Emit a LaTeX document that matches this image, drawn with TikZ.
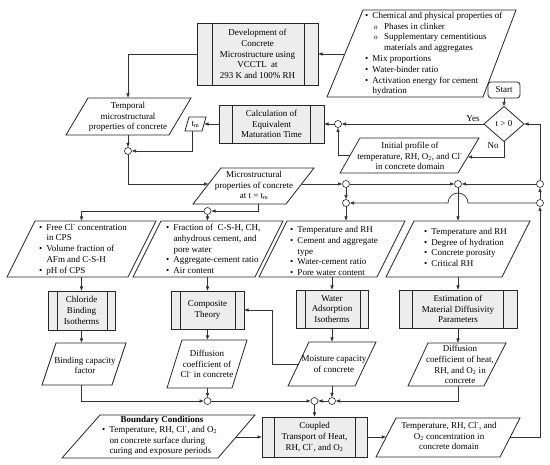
\documentclass[tikz,border=0pt]{standalone}
\usepackage{fontspec}
\setmainfont{Liberation Serif}
\usetikzlibrary{arrows.meta,shapes.geometric}
\newcommand\myb[1]{\makebox[7.5pt][l]{•}#1}
\newcommand\myc[1]{\hspace*{7.5pt}#1}
\newcommand\mysb[1]{\hspace*{9pt}\makebox[10pt][l]{\fontsize{7}{7}\selectfont o}#1}
\newcommand\mysc[1]{\hspace*{19pt}#1}
\newcommand\clm{Cl\textsuperscript{-}}
% name, ytop, ybottom, TLx, TRx, BLx, BRx
\newcommand\pgram[7]{%
  \draw[io] (#6,#3) -- (#7,#3) -- (#5,#2) -- (#4,#2) -- cycle;
  \coordinate (#1-t) at ({(#4+#5)/2},#2);
  \coordinate (#1-b) at ({(#6+#7)/2},#3);}
\begin{document}
\begin{tikzpicture}[x=1pt,y=-1pt,
  every node/.style={font=\fontsize{9}{10.8}\selectfont, inner sep=0pt, outer sep=0pt},
  ln/.style={line width=0.7pt, draw=black!80},
  arr/.style={ln, -{Latex[length=4.5pt,width=3.6pt]}},
  io/.style={draw=black!85, line width=0.8pt, fill=white},
  jn/.style={circle, draw=black!85, line width=0.6pt, fill=white, minimum size=7pt},
  proc/.style n args={4}{draw=black!85, line width=0.9pt, fill=black!7,
    minimum width=#1, minimum height=#2, align=center,
    path picture={
      \draw[line width=0.9pt, black!85] ([xshift=#3]path picture bounding box.north west) -- ([xshift=#3]path picture bounding box.south west);
      \draw[line width=0.9pt, black!85] ([xshift=-#4]path picture bounding box.north east) -- ([xshift=-#4]path picture bounding box.south east);}},
  txt/.style={align=center},
  lst/.style={align=left, anchor=west},
]
\fill[white] (0,0) rectangle (550,465);
\useasboundingbox (0,0) rectangle (550,465);

% ---------- process boxes
\node[proc={121pt}{62pt}{15pt}{14pt}] (VC) at (257.5,54) {Development of\\Concrete\\Microstructure using\\VCCTL\ \ at\\293 K and 100\% RH};
\node[proc={105pt}{38pt}{13pt}{14pt}] (CA) at (271.5,124) {Calculation of\\Equivalent\\Maturation Time};
\node[proc={67pt}{39pt}{9pt}{8pt}] (CB) at (81.5,310.5) {Chloride\\Binding\\Isotherms};
\node[proc={73pt}{38pt}{9pt}{9pt}] (CT) at (207.5,310) {Composite\\Theory};
\node[proc={72pt}{38pt}{9pt}{8pt}] (WA) at (332,309) {Water\\Adsorption\\Isotherms};
\node[proc={118pt}{38pt}{13pt}{14pt}] (EM) at (458,309) {Estimation of\\Material Diffusivity\\Parameters};
\node[proc={105pt}{40pt}{12pt}{12pt}] (TR) at (314.5,437) {Coupled\\Transport of Heat,\\RH, \clm, and O\textsubscript{2}};

% ---------- start and decision
\node[draw=black!85, line width=0.8pt, rounded corners=3pt, minimum width=32pt, minimum height=16pt] (ST) at (504,90) {Start};
\node[diamond, draw=black!85, line width=0.8pt, fill=white, minimum width=40pt, minimum height=35pt] (D) at (504,124) {t > 0};
\node (YS) at (473,119) {Yes};
\node (NO) at (493,146) {No};

% ---------- parallelograms
\pgram{IN}{10}{97}{363}{516}{327}{483}
\pgram{TP}{98}{135}{88}{191}{66}{169}
\pgram{TM}{117}{131}{189}{206}{185}{202}
\pgram{MP}{168}{204}{221}{314}{193}{286}
\pgram{IP}{138}{173}{360}{479}{340}{458}
\pgram{P1}{221}{277}{35}{156}{7}{128}
\pgram{P2}{221}{277}{161}{283}{133}{255}
\pgram{P3}{221}{277}{287}{405}{259}{377}
\pgram{P4}{221}{277}{414}{530}{386}{502}
\pgram{BF}{343}{385}{56}{126}{42}{112}
\pgram{DC}{340}{388}{182}{247}{167}{232}
\pgram{MC}{342}{386}{309}{376}{288}{355}
\pgram{DH}{343}{386}{428}{506}{408}{484}
\pgram{BC}{415}{458}{100}{255}{62}{218}
\pgram{TO}{418}{457}{396}{520}{376}{500}

% ---------- texts in parallelograms
\node[lst] (INt) at (365,54) {\myb{Chemical and physical properties of}\\\mysb{Phases in clinker}\\\mysb{Supplementary cementitious}\\\mysc{materials and aggregates}\\\myb{Mix proportions}\\\myb{Water-binder ratio}\\\myb{Activation energy for cement}\\\myc{hydration}};
\node[txt] (TPt) at (128,117) {Temporal\\microstructural\\properties of concrete};
\node (TMt) at (195.5,124) {t\textsubscript{m}};
\node[txt] (MPt) at (254,185.5) {Microstructural\\properties of concrete\\at t = t\textsubscript{m}};
\node[txt] (IPt) at (410,156) {Initial profile of\\temperature, RH, O\textsubscript{2}, and \clm\\in concrete domain};
\node[lst] (P1t) at (39,249.5) {\myb{Free \clm{} concentration}\\\myc{in CPS}\\\myb{Volume fraction of}\\\myc{AFm and C-S-H}\\\myb{pH of CPS}};
\node[lst] (P2t) at (166,249) {\myb{Fraction of\ \ C-S-H, CH,}\\\myc{anhydrous cement, and}\\\myc{pore water}\\\myb{Aggregate-cement ratio}\\\myb{Air content}};
\node[lst] (P3t) at (290,251) {\myb{Temperature and RH}\\\myb{Cement and aggregate}\\\myc{type}\\\myb{Water-cement ratio}\\\myb{Pore water content}};
\node[lst] (P4t) at (424,247.5) {\myb{Temperature and RH}\\\myb{Degree of hydration}\\\myb{Concrete porosity}\\\myb{Critical RH}};
\node[txt] (BFt) at (85,365.5) {Binding capacity\\factor};
\node[txt] (DCt) at (207,364) {Diffusion\\coefficient of\\\clm{} in concrete};
\node[txt] (MCt) at (334,364) {Moisture capacity\\of concrete};
\node[txt] (DHt) at (460,364.5) {Diffusion\\coefficient of heat,\\RH, and O\textsubscript{2} in\\concrete};
\node[font={\fontsize{9}{10.8}\selectfont\bfseries}] (BCh) at (162,420.5) {Boundary Conditions};
\node[lst] (BCt) at (102,441) {\myb{Temperature, RH, \clm, and O\textsubscript{2}}\\\myc{on concrete surface during}\\\myc{curing and exposure periods}};
\node[txt] (TOt) at (449,436) {Temperature, RH, \clm, and\\O\textsubscript{2} concentration in\\concrete domain};

% ---------- junction circles
\node[jn] (c1) at (128,151) {};
\node[jn] (c2) at (346,184) {};
\node[jn] (c3) at (207.5,211) {};
\node[jn] (c4) at (458,184) {};
\node[jn] (c5) at (346,203) {};
\node[jn] (c6) at (540,184) {};
\node[jn] (c7) at (540,203) {};
\node[jn] (c8) at (338,124) {};
\node[jn] (c9) at (207.5,401) {};
\node[jn] (c10) at (314.5,401) {};
\node[jn] (c11) at (332,401) {};

% ---------- edge points
\coordinate (INw) at (344.8,54);
\coordinate (TMe) at (204,124);
\coordinate (TMs) at (192,131);
\coordinate (MPw) at (208.6,184);
\coordinate (MPe) at (301.6,184);
\coordinate (MPb) at (258,204);
\coordinate (IPw) at (350.3,155);
\coordinate (IPe) at (467.6,157);
\coordinate (MCw) at (298.5,364);
\coordinate (BCe) at (236.1,437);
\coordinate (TOw) at (386.3,437);
\coordinate (TOe) at (510.3,437);
\coordinate (J) at (458,203);

% ---------- connectors
\draw[arr] (INw) -- (VC.east);
\draw[arr] (VC.west) -| (c1 |- TP-t);
\draw[arr] (c1 |- TP-b) -- (c1);
\draw[arr] (TMs) |- (c1);
\draw[arr] (c1) |- (MPw);
\draw[arr] (CA.west) -- (TMe);
\draw[arr] (ST) -- (D);
\draw[arr] (D.west) -- (c8);
\draw[arr] (c8) -- (CA.east);
\draw[arr] (IPw) -| (c8);
\draw[arr] (D.south) |- (IPe);
\draw[arr] (MPe) -- (c2);
\draw[arr] (MPb) |- (c3);
\draw[arr] (c3) -| (CB.north |- P1-t);
\draw[arr] (c3) -- (c3 |- P2-t);
\draw[arr] (c2) -- (c4);
\draw[arr] (c2) -- (c5);
\draw[arr] (c5) -- (c5 |- P3-t);
\draw[arr] (c4) -- (c4 |- P4-t);
\draw[arr] (TOe) -| (c7);
\draw[arr] (c7) -- (c6);
\draw[arr] (c6) |- (D.east);
\draw[arr] (c6) -- (c4);
\draw[arr] (c7) -- ([xshift=10pt]J) arc[start angle=0, end angle=180, radius=10pt] -- (c5);
\draw[arr] (CB.north |- P1-b) -- (CB.north);
\draw[arr] (CT.north |- P2-b) -- (CT.north);
\draw[arr] (WA.north |- P3-b) -- (WA.north);
\draw[arr] (EM.north |- P4-b) -- (EM.north);
\draw[arr] (CB.south) -- (CB.south |- BF-t);
\draw[arr] (CT.south) -- (CT.south |- DC-t);
\draw[arr] (WA.south) -- (WA.south |- MC-t);
\draw[arr] (EM.south) -- (EM.south |- DH-t);
\draw[arr] (CB.south |- BF-b) |- (c9);
\draw[arr] (c9 |- DC-b) -- (c9);
\draw[arr] (c9) -- (c10);
\draw[arr] (c11 |- MC-b) -- (c11);
\draw[arr] (c11) -- (c10);
\draw[arr] (EM.south |- DH-b) |- (c11);
\draw[arr] (c10) -- (c10 |- TR.north);
\draw[arr] (MCw) -- ++(-26,0) |- (CT.east);
\draw[arr] (BCe) -- (TR.west |- BCe);
\draw[arr] (TR.east) -- (TOw);
\end{tikzpicture}
\end{document}
